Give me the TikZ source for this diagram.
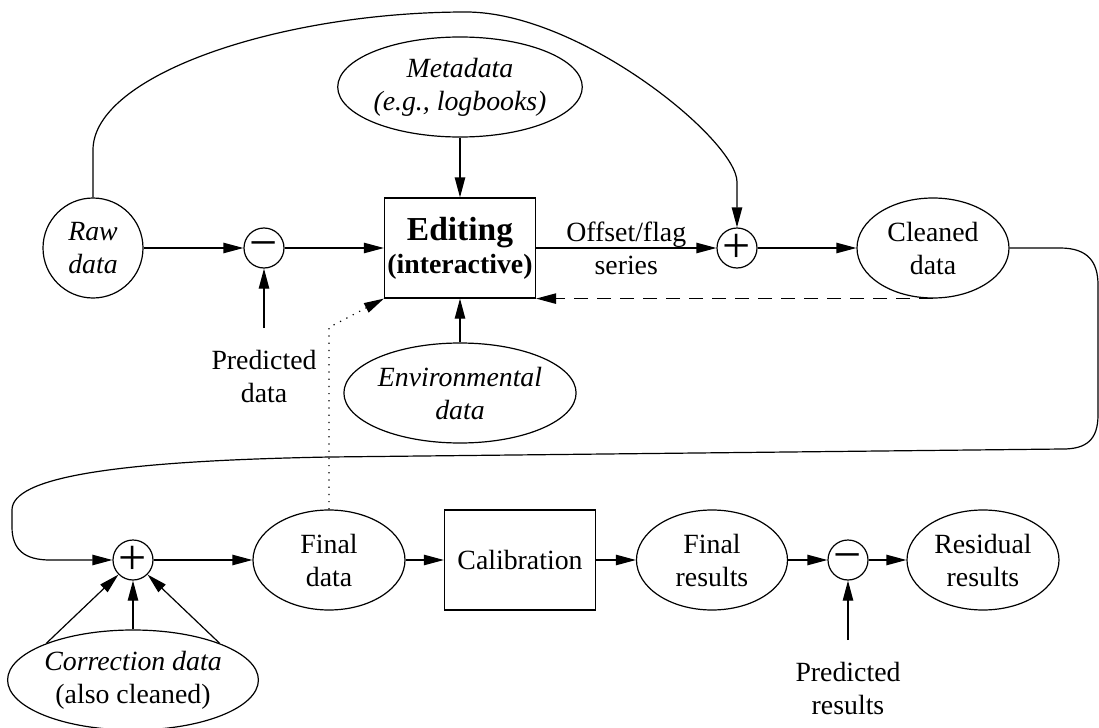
\documentclass[tikz,border=0pt]{standalone}
\usepackage{fontspec}
\setmainfont{Liberation Serif}
\usetikzlibrary{arrows.meta,shapes.geometric}
\newcommand{\lowminus}{\raisebox{-1.5pt}[\height][0pt]{−}}
\begin{document}
\begin{tikzpicture}[x=0.5pt,y=-0.5pt,
  every node/.style={font=\fontsize{13.9pt}{16.5pt}\selectfont, align=center, inner sep=0pt},
  itx/.style={font=\fontsize{13.9pt}{16.5pt}\selectfont\itshape},
  arr/.style={line width=0.6pt,-{Triangle[length=10pt,width=5.2pt]}},
  oval/.style={draw, line width=0.6pt, ellipse, minimum height=50pt},
  blk/.style={draw, line width=0.6pt, rectangle, minimum width=75.5pt, minimum height=50pt},
  sym/.style={draw, line width=0.6pt, circle, minimum size=20pt, font=\fontsize{25pt}{25pt}\selectfont},
  dashline/.style={dash pattern=on 7pt off 4.5pt},
  dotline/.style={dash pattern=on 0.6pt off 3pt}
]
\useasboundingbox (0,0) rectangle (1099,728);

% top row
\node[draw, line width=0.6pt, circle, minimum size=50pt, itx] (raw) at (93,248) {Raw\\data};
\node[sym] (m1) at (264,248) {\lowminus};
\node[blk] (edit) at (460,248) {{\fontsize{16.75pt}{16.5pt}\selectfont\bfseries Editing}\\\bfseries(interactive)};
\node[oval, minimum width=110.5pt, itx] (meta) at (460,87) {Metadata\\(e.g., logbooks)};
\node[oval, minimum width=115.5pt, itx] (env) at (460,393) {Environmental\\data};
\node[sym] (plus1) at (737,248) {+};
\node[oval, minimum width=76pt] (clean) at (933,248) {Cleaned\\data};
\node (pdl) at (264,376) {Predicted\\data};
\coordinate (pdc) at (264,328);

% bottom row
\node[sym] (plus2) at (133,560) {+};
\node[oval, minimum width=76pt] (fdata) at (329,560) {Final\\data};
\node[blk] (calib) at (520,560) {Calibration};
\node[oval, minimum width=75.5pt] (fres) at (712,560) {Final\\results};
\node[sym] (m2) at (848,560) {\lowminus};
\node[oval, minimum width=76pt] (resid) at (983,560) {Residual\\results};
\node[oval, minimum width=120.5pt] (corr) at (133,680) {{\itshape Correction data}\\(also cleaned)};
\node (prl) at (848,688) {Predicted\\results};
\coordinate (prc) at (848,640);

% connectors top
\draw[arr] (raw) -- (m1);
\draw[arr] (m1) -- (edit);
\draw[arr] (pdc) -- (m1);
\draw[arr] (meta) -- (edit);
\draw[arr] (env) -- (edit);
\draw[arr] (edit) -- node[midway] (ofs) {Offset/flag\\series} (plus1);
\draw[arr] (plus1) -- (clean);
\draw[arr] (raw.north) -- (93,150) .. controls (93,75) and (280,12) .. (466,12)
   .. controls (580,12) and (737,140) .. (737,182) -- (plus1.north);
\draw[arr, dashline] (clean.south) -- (edit.south east);
\draw[arr, dotline] (fdata.north) -- ++(0,-182) -- (edit.south west);

% loop
\draw[arr] (clean.east) -- (1060,248) .. controls (1088,248) and (1098,262) .. (1098,285)
   -- (1098,415) .. controls (1098,440) and (1086,449) .. (1063,449)
   -- (330,457) .. controls (110,461) and (12,478) .. (12,510)
   -- (12,527) .. controls (12,550) and (25,560) .. (50,560) -- (plus2.west);

% connectors bottom
\draw[arr] (corr.157) -- (plus2.225);
\draw[arr] (corr.north) -- (plus2.south);
\draw[arr] (corr.23) -- (plus2.315);
\draw[arr] (plus2) -- (fdata);
\draw[arr] (fdata) -- (calib);
\draw[arr] (calib) -- (fres);
\draw[arr] (fres) -- (m2);
\draw[arr] (m2) -- (resid);
\draw[arr] (prc) -- (m2);
\end{tikzpicture}
\end{document}
